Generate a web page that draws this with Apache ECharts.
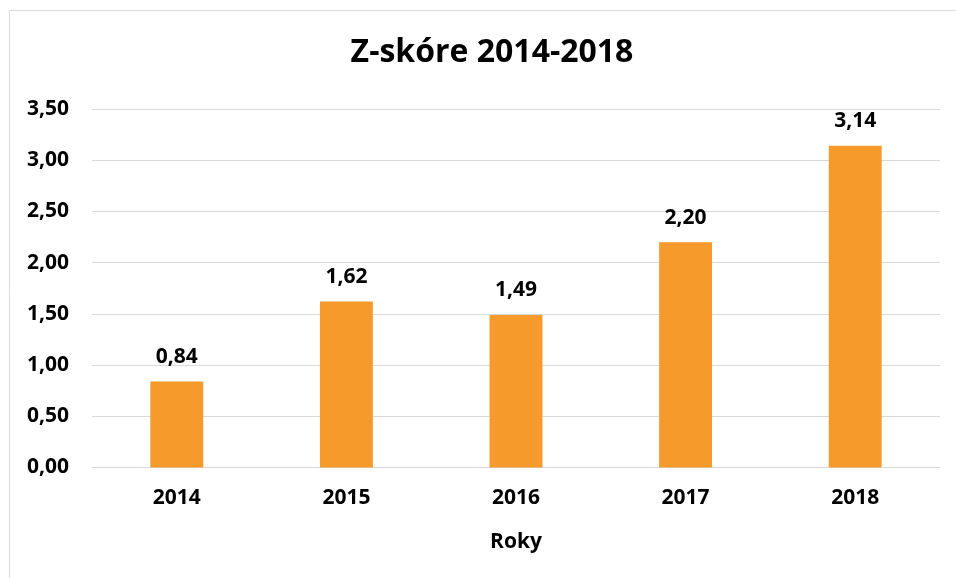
<!DOCTYPE html>
<html lang="sk">
<head>
    <meta charset="utf-8" />
    <title>Z-skóre 2014-2018</title>
    <style>
        html,
        body {
            width: 100%;
            height: 100%;
            margin: 0;
            background: #fff;
        }

        #chart {
            width: 956px;
            height: 578px;
        }
    </style>
</head>
<body>
    <div id="chart"></div>
    <script src="https://cdn.jsdelivr.net/npm/echarts@6.0.0/dist/echarts.min.js"></script>
    <script type="text/javascript">
        var years = ['2014', '2015', '2016', '2017', '2018'];
        var zScore = [0.84, 1.62, 1.49, 2.20, 3.14];

        var font = '"Open Sans", "Noto Sans", sans-serif';

        function comma(v) {
            return v.toFixed(2).replace('.', ',');
        }

        var chart = echarts.init(document.getElementById('chart'));

        var option = {
            backgroundColor: '#fff',
            animation: false,
            textStyle: { fontFamily: font },
            graphic: [{
                type: 'rect',
                shape: { x: 9.5, y: 10.5, width: 1000, height: 1000 },
                style: { fill: 'none', stroke: '#d9d9d9', lineWidth: 1 },
                silent: true
            }],
            title: {
                text: 'Z-skóre 2014-2018',
                left: 487,
                top: 32,
                textAlign: 'center',
                textStyle: {
                    fontFamily: font,
                    fontSize: 32,
                    fontWeight: 'bold',
                    color: '#000'
                }
            },
            grid: {
                left: 92,
                right: 16,
                top: 109,
                bottom: 110.5
            },
            xAxis: {
                type: 'category',
                data: years,
                name: 'Roky',
                nameLocation: 'middle',
                nameGap: 64,
                nameTextStyle: {
                    fontFamily: font,
                    fontSize: 21,
                    fontWeight: 'bold',
                    color: '#000'
                },
                axisLine: { lineStyle: { color: '#d9d9d9', width: 1 } },
                axisTick: { show: false },
                axisLabel: {
                    margin: 20,
                    fontFamily: font,
                    fontSize: 21,
                    fontWeight: 'bold',
                    color: '#000'
                }
            },
            yAxis: {
                type: 'value',
                min: 0,
                max: 3.5,
                interval: 0.5,
                axisLine: { show: false },
                axisTick: { show: false },
                splitLine: { lineStyle: { color: '#d9d9d9', width: 1 } },
                axisLabel: {
                    margin: 23,
                    fontFamily: font,
                    fontSize: 21,
                    fontWeight: 'bold',
                    color: '#000',
                    formatter: comma
                }
            },
            series: [{
                type: 'bar',
                data: zScore,
                barWidth: '31.2%',
                itemStyle: { color: '#f69a2c' },
                label: {
                    show: true,
                    position: 'top',
                    distance: 14,
                    fontFamily: font,
                    fontSize: 21,
                    fontWeight: 'bold',
                    color: '#000',
                    formatter: function (p) {
                        return comma(p.value);
                    }
                }
            }]
        };

        chart.setOption(option);
    </script>
</body>
</html>
